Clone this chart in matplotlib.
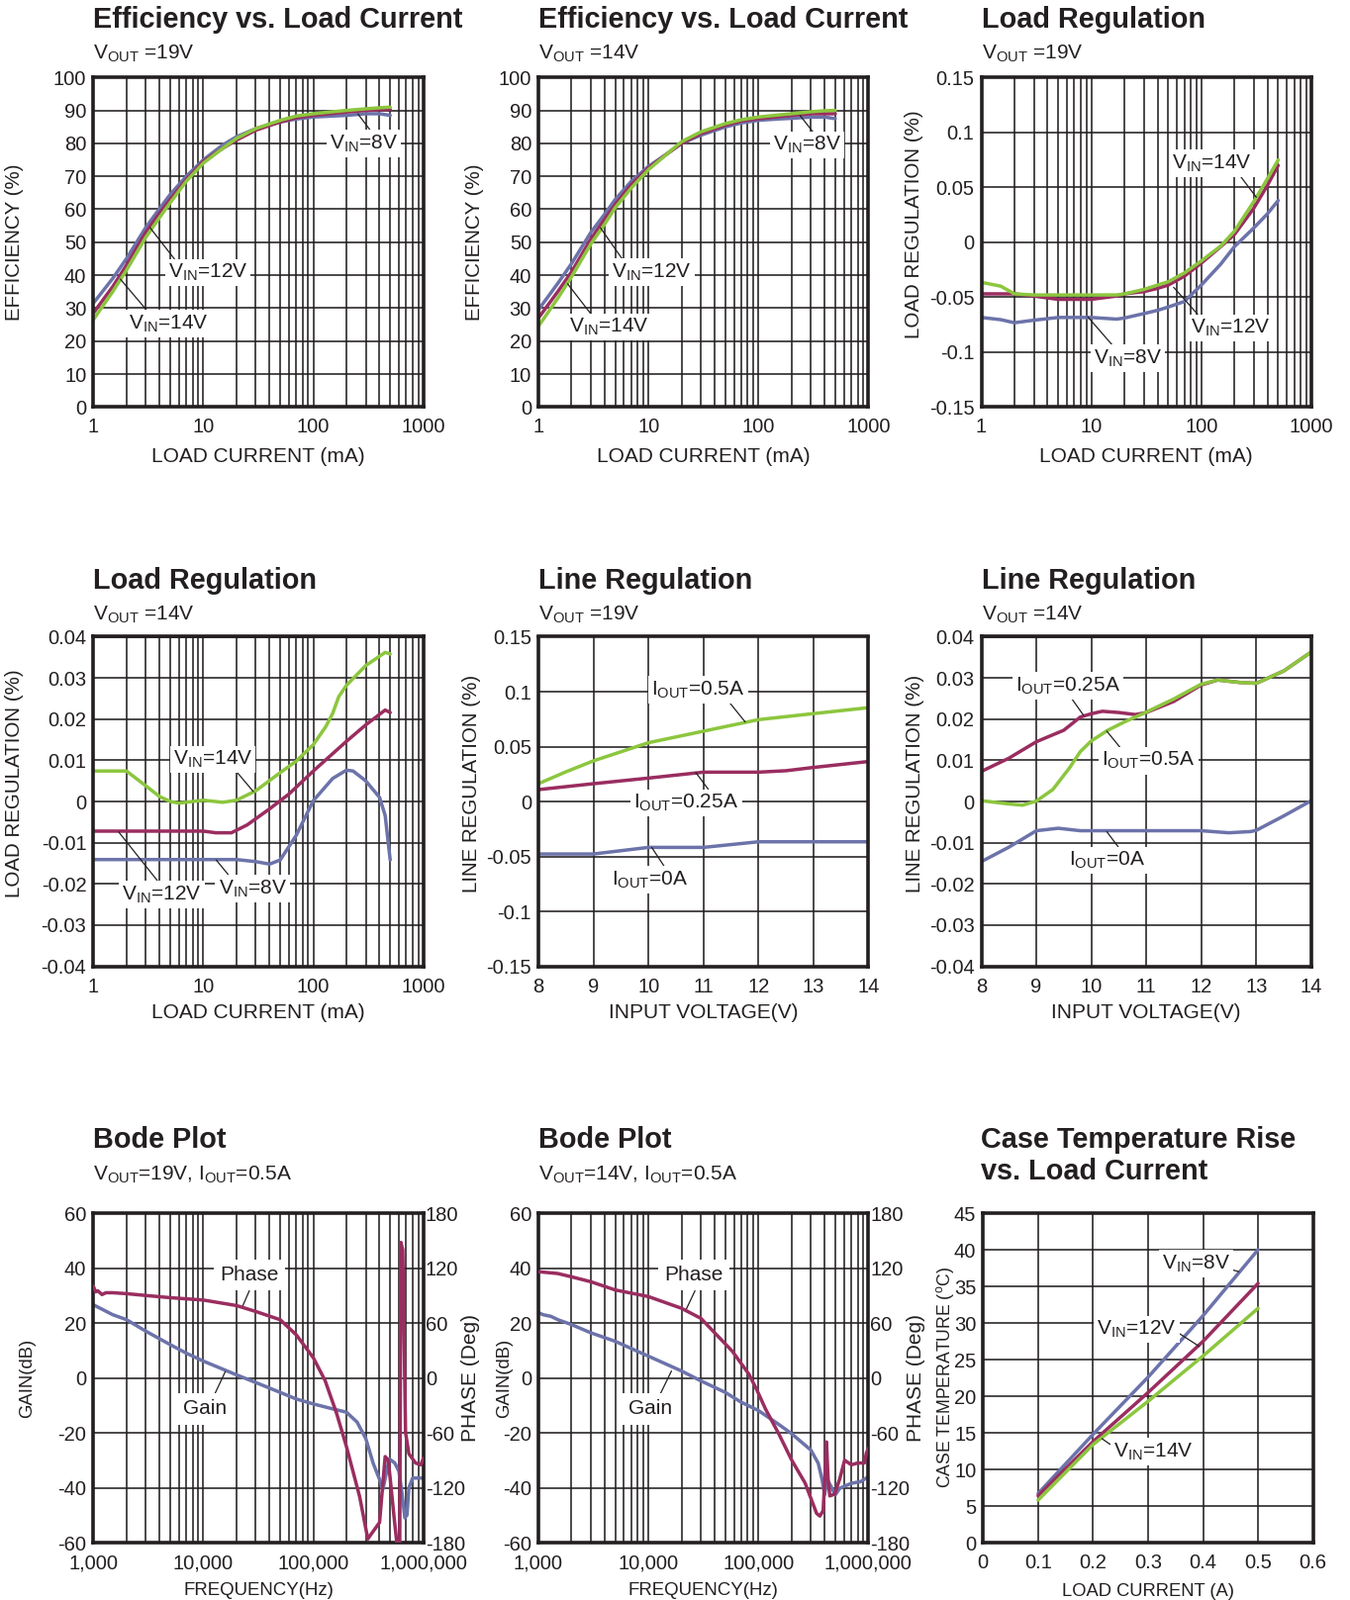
"""
Converter characterisation curves – 3x3 sheet of typical performance plots.
"""

import numpy as np
import matplotlib

matplotlib.use("Agg")
import matplotlib.pyplot as plt
from matplotlib.ticker import FuncFormatter, LogLocator, MultipleLocator, NullFormatter

plt.rcParams["font.family"] = ["Liberation Sans", "DejaVu Sans"]
plt.rcParams["mathtext.fontset"] = "custom"
plt.rcParams["mathtext.rm"] = "Liberation Sans"
plt.rcParams["mathtext.it"] = "Liberation Sans:italic"
plt.rcParams["mathtext.bf"] = "Liberation Sans:bold"
plt.rcParams["axes.unicode_minus"] = False

BLUE = "#6c73aa"
MAROON = "#9a2d60"
GREEN = "#8cc63e"
INK = "#231f20"

# ── data ─────────────────────────────────────────────────────────────────────

# efficiency, load current in mA
eff_i = [1, 1.5, 2, 3, 4, 5, 7, 10, 15, 20, 30, 50, 70, 100, 150, 200, 300, 400, 500]
eff19_8v = [31.5, 39, 45, 54.5, 60.2, 64.5, 70, 75, 79.5, 82, 84.5, 86.5, 87.4, 88, 88.3, 88.5, 89, 89, 88.5]
eff19_12v = [28.5, 36.5, 43, 53, 58.8, 63, 69, 74.5, 78.5, 81, 84, 86.5, 87.8, 88.5, 89.1, 89.5, 90, 90.2, 90.3]
eff19_14v = [26.5, 35, 41.5, 51.5, 57.5, 62, 68.5, 74, 78.5, 81.5, 84.5, 87, 88.3, 89, 89.6, 90, 90.5, 90.8, 91]
eff14_8v = [29.5, 37.5, 43.5, 53, 58.5, 63, 68.5, 73, 77, 80, 82.5, 85, 86.2, 87, 87.4, 87.6, 88, 88, 87.5]
eff14_12v = [27, 35, 41, 51, 57, 61.5, 67.5, 72.5, 77, 80, 83, 85.5, 86.8, 87.5, 88.1, 88.5, 89, 89, 89]
eff14_14v = [24.5, 33, 39.5, 49.5, 55.5, 60.5, 66.5, 72, 77, 80.5, 83.5, 86, 87.2, 88, 88.6, 89, 89.6, 89.9, 90]

# load regulation, VOUT = 19V
lr19_i = [1, 1.5, 2, 3, 5, 10, 17, 20, 30, 40, 50, 70, 100, 150, 200, 300, 400, 500]
lr19_8v = [-0.0685, -0.0705, -0.0733, -0.071, -0.0685, -0.0685, -0.070, -0.069, -0.065, -0.062,
           -0.059, -0.054, -0.039, -0.020, -0.004, 0.013, 0.026, 0.038]
lr19_12v = [-0.047, -0.047, -0.047, -0.049, -0.052, -0.052, -0.049, -0.047, -0.045, -0.042,
            -0.039, -0.031, -0.019, -0.004, 0.007, 0.031, 0.052, 0.070]
lr19_14v = [-0.0365, -0.040, -0.047, -0.048, -0.048, -0.048, -0.048, -0.047, -0.043, -0.039,
            -0.036, -0.028, -0.017, -0.0035, 0.010, 0.037, 0.058, 0.075]

# load regulation, VOUT = 14V
lr14_i_14v = [1, 2, 3, 4, 5, 6, 8, 10, 15, 20, 30, 50, 70, 100, 130, 150, 170, 200, 300, 450, 500]
lr14_14v = [0.0074, 0.0074, 0.0038, 0.0012, 0.0, -0.0004, 0.0, 0.0003, -0.0002, 0.0003, 0.0026,
            0.007, 0.0098, 0.0138, 0.0182, 0.0214, 0.0254, 0.0282, 0.033, 0.0362, 0.0358]
lr14_i_12v = [1, 10, 13, 18, 25, 40, 60, 100, 200, 300, 450, 500]
lr14_12v = [-0.0072, -0.0072, -0.0076, -0.0076, -0.0057, -0.0018, 0.0018, 0.0074, 0.0146, 0.0186, 0.0222, 0.0216]
lr14_i_8v = [1, 20, 30, 40, 50, 70, 100, 150, 200, 230, 300, 400, 450, 500]
lr14_8v = [-0.0141, -0.0141, -0.0146, -0.0152, -0.0142, -0.0082, 0.0002, 0.0056, 0.0076, 0.0074,
           0.005, 0.001, -0.0034, -0.0142]

# line regulation, VOUT = 19V
ln19_v_05 = [8, 8.5, 9, 10, 11, 12, 13, 14]
ln19_05 = [0.0162, 0.027, 0.037, 0.0535, 0.064, 0.0745, 0.080, 0.0854]
ln19_v_025 = [8, 9, 10, 11, 12, 12.5, 13, 14]
ln19_025 = [0.0108, 0.0162, 0.0213, 0.0267, 0.0267, 0.028, 0.031, 0.0364]
ln19_v_0 = [8, 9, 10, 11, 12, 13, 14]
ln19_0 = [-0.0478, -0.0478, -0.0418, -0.0418, -0.0367, -0.0367, -0.0367]

# line regulation, VOUT = 14V
ln14_v_025 = [8, 8.5, 9, 9.5, 9.8, 10, 10.2, 10.5, 10.8, 11, 11.5, 12, 12.3, 12.7, 13, 13.5, 14]
ln14_025 = [0.0073, 0.0105, 0.0145, 0.0173, 0.0205, 0.0213, 0.0219, 0.0216, 0.0211, 0.0216,
            0.0243, 0.0283, 0.0295, 0.0289, 0.0287, 0.0317, 0.0363]
ln14_v_05 = [8, 8.5, 8.75, 9, 9.3, 9.6, 9.8, 10, 10.3, 10.6, 11, 11.5, 12, 12.3, 12.7, 13, 13.5, 14]
ln14_05 = [0.0002, -0.0006, -0.0009, 0.0001, 0.0029, 0.0081, 0.0121, 0.0147, 0.0173, 0.0193,
           0.0217, 0.0249, 0.0285, 0.0295, 0.0289, 0.0287, 0.0317, 0.0363]
ln14_v_0 = [8, 8.5, 9, 9.4, 9.8, 10, 11, 12, 12.5, 12.9, 13, 13.5, 14]
ln14_0 = [-0.0146, -0.0111, -0.0071, -0.0065, -0.0071, -0.0071, -0.0071, -0.0071, -0.0076,
          -0.0073, -0.007, -0.0035, 0.0002]

# bode, VOUT = 19V
b19_f_gain = [1000, 1200, 1500, 2000, 3000, 5000, 7000, 10000, 20000, 30000, 50000, 70000,
              100000, 150000, 200000, 250000, 300000, 350000, 400000, 430000, 490000, 550000,
              600000, 640000, 680000, 710000, 740000, 800000, 1000000]
b19_gain = [26.6, 25, 23, 21.2, 17, 12.1, 9, 6.1, 1.1, -1.7, -5.3, -7.7, -9.5, -11.3, -12.5,
            -16.1, -22.1, -31.1, -37, -40.5, -29.5, -31, -34, -42, -51, -50, -40, -36.5, -36.5]
b19_f_phase = [1000, 1050, 1100, 1200, 1300, 1500, 2000, 3000, 5000, 10000, 20000, 30000, 50000,
               70000, 100000, 128000, 163000, 200000, 264000, 313000, 330000, 400000, 450000,
               480000, 500000, 540000, 580000, 610000, 625000, 650000, 690000, 740000, 850000,
               950000, 1000000]
b19_phase = [100, 94, 95, 91, 93, 93, 92, 90, 87.6, 85, 79, 72.5, 63.5, 47, 22, -3, -39, -75,
             -130, -176, -172, -158, -86, -90, -110, -150, -185, -195, 148, 140, -60, -83, -93,
             -95, -88]

# bode, VOUT = 14V
b14_f_gain = [1000, 1100, 1300, 1500, 2000, 3000, 5000, 10000, 20000, 30000, 50000, 70000,
              100000, 150000, 200000, 300000, 350000, 380000, 400000, 420000, 450000, 500000,
              550000, 700000, 850000, 1000000]
b14_gain = [23.8, 23, 22.4, 21.2, 19.4, 16.4, 13.3, 7.9, 2.5, -1.1, -5.3, -8.9, -11.9, -16.7,
            -20.3, -26.3, -31.1, -37.2, -42.6, -37, -39, -42.6, -40.2, -38.4, -37.8, -36]
b14_f_phase = [1000, 1500, 2000, 3000, 5000, 10000, 20000, 30000, 58000, 82000, 97500, 116000,
               153000, 201000, 266000, 338000, 362000, 388000, 405000, 416000, 430000, 446000,
               494000, 550000, 608000, 700000, 800000, 920000, 960000, 1000000]
b14_phase = [116, 114, 110.4, 105, 96, 88.8, 76, 65, 29, 4, -14, -34, -61, -90, -115, -148, -151,
             -145, -100, -70, -110, -129, -127, -110, -90, -95, -93, -93, -82, -77]

# case temperature rise
ct_i = [0.1, 0.2, 0.3, 0.4, 0.5]
ct_8v = [6.7, 14.8, 22.6, 31, 40]
ct_12v = [6.4, 13.8, 20.5, 27.5, 35.4]
ct_14v = [5.8, 13.4, 19.3, 25.5, 32]

VIN8 = r"V$_{\mathrm{IN}}$=8V"
VIN12 = r"V$_{\mathrm{IN}}$=12V"
VIN14 = r"V$_{\mathrm{IN}}$=14V"

# ── helpers ──────────────────────────────────────────────────────────────────

W, H = 1364, 1617
AX_W, AX_H = 333.4, 333.0


def make_axes(fig, left_px, top_px):
    ax = fig.add_axes([left_px / W, 1 - (top_px + AX_H) / H, AX_W / W, AX_H / H])
    for s in ax.spines.values():
        s.set_linewidth(2.6)
        s.set_color(INK)
    ax.tick_params(which="both", length=0, labelsize=14.5, colors=INK)
    ax.tick_params(axis="y", pad=5)
    ax.tick_params(axis="x", pad=8)
    ax.grid(which="both", color=INK, lw=1.15)
    ax.set_axisbelow(True)
    return ax


def num_fmt(v, _pos):
    return f"{round(v, 6) + 0.0:g}"


def log_x(ax, lo, hi, fmt=num_fmt):
    ax.set_xscale("log")
    ax.set_xlim(lo, hi)
    ax.xaxis.set_major_locator(LogLocator(base=10, numticks=10))
    ax.xaxis.set_minor_locator(LogLocator(base=10, subs=np.arange(2, 10), numticks=40))
    ax.xaxis.set_minor_formatter(NullFormatter())
    ax.xaxis.set_major_formatter(FuncFormatter(fmt))


def lin_y(ax, lo, hi, step):
    ax.set_ylim(lo, hi)
    ax.yaxis.set_major_locator(MultipleLocator(step))
    ax.yaxis.set_major_formatter(FuncFormatter(num_fmt))


def heading(ax, title, sub, ty=1.150, sy=1.055):
    ax.text(0.0, ty, title, transform=ax.transAxes, fontsize=20.8, fontweight="bold",
            va="baseline", ha="left", color=INK)
    if sub:
        ax.text(0.0, sy, sub, transform=ax.transAxes, fontsize=15, va="baseline",
                ha="left", color=INK)


def labels(ax, xlabel, ylabel, xl_y=-0.15, yl_x=-0.2, yl_y=0.5, xsize=15, ysize=14.8):
    ax.set_xlabel(xlabel, fontsize=xsize, va="center", color=INK)
    ax.xaxis.set_label_coords(0.5, xl_y)
    ax.set_ylabel(ylabel, fontsize=ysize, va="center", color=INK)
    ax.yaxis.set_label_coords(yl_x, yl_y)


def tag(ax, text, xy, xytext, relpos=(0.5, 0.5), pad=0.15):
    ax.annotate(text, xy=xy, xytext=xytext, textcoords="data", fontsize=15, color=INK,
                ha="center", va="center", zorder=6,
                bbox=dict(boxstyle=f"square,pad={pad}", fc="white", ec="none"),
                arrowprops=dict(arrowstyle="-", color=INK, lw=0.9, shrinkA=0, shrinkB=0,
                                relpos=relpos))


def curve(ax, x, y, color, z=2):
    ax.plot(x, y, color=color, lw=2.5, zorder=z, solid_capstyle="round")


# ── figure ───────────────────────────────────────────────────────────────────

fig = plt.figure(figsize=(W / 100, H / 100), dpi=100)

COL = [94.3, 544.0, 991.5]
ROW = [78.3, 643.5, 1226.0]

# Efficiency, VOUT=19V
ax = make_axes(fig, COL[0], ROW[0])
log_x(ax, 1, 1000)
lin_y(ax, 0, 100, 10)
curve(ax, eff_i, eff19_8v, BLUE)
curve(ax, eff_i, eff19_12v, MAROON)
curve(ax, eff_i, eff19_14v, GREEN)
heading(ax, "Efficiency vs. Load Current", r"V$_{\mathrm{OUT}}$ =19V")
labels(ax, "LOAD CURRENT (mA)", "EFFICIENCY (%)", yl_x=-0.238)
tag(ax, VIN8, (255, 88.9), (285, 80), relpos=(0.63, 1))
tag(ax, VIN12, (3.28, 54.4), (11.0, 40.8), relpos=(0.11, 1))
tag(ax, VIN14, (1.76, 38.8), (4.8, 25.3), relpos=(0.26, 1))

# Efficiency, VOUT=14V
ax = make_axes(fig, COL[1], ROW[0])
log_x(ax, 1, 1000)
lin_y(ax, 0, 100, 10)
curve(ax, eff_i, eff14_8v, BLUE)
curve(ax, eff_i, eff14_12v, MAROON)
curve(ax, eff_i, eff14_14v, GREEN)
heading(ax, "Efficiency vs. Load Current", r"V$_{\mathrm{OUT}}$ =14V")
labels(ax, "LOAD CURRENT (mA)", "EFFICIENCY (%)", yl_x=-0.192)
tag(ax, VIN8, (239, 88.5), (275, 79.5), relpos=(0.62, 1))
tag(ax, VIN12, (3.66, 54.4), (10.7, 40.9), relpos=(0.155, 1))
tag(ax, VIN14, (1.84, 37.4), (4.36, 24.3), relpos=(0.3, 1))

# Load regulation, VOUT=19V
ax = make_axes(fig, COL[2], ROW[0])
log_x(ax, 1, 1000)
lin_y(ax, -0.15, 0.15, 0.05)
curve(ax, lr19_i, lr19_8v, BLUE)
curve(ax, lr19_i, lr19_12v, MAROON)
curve(ax, lr19_i, lr19_14v, GREEN)
heading(ax, "Load Regulation", r"V$_{\mathrm{OUT}}$ =19V")
labels(ax, "LOAD CURRENT (mA)", "LOAD REGULATION (%)", yl_x=-0.203, yl_y=0.554)
tag(ax, VIN14, (316, 0.041), (124, 0.0718), relpos=(0.84, 0))
tag(ax, VIN12, (56, -0.041), (185, -0.078), relpos=(0.12, 1))
tag(ax, VIN8, (9.3, -0.068), (21.3, -0.1055), relpos=(0.31, 1))

# Load regulation, VOUT=14V
ax = make_axes(fig, COL[0], ROW[1])
log_x(ax, 1, 1000)
lin_y(ax, -0.04, 0.04, 0.01)
curve(ax, lr14_i_8v, lr14_8v, BLUE)
curve(ax, lr14_i_12v, lr14_12v, MAROON)
curve(ax, lr14_i_14v, lr14_14v, GREEN)
heading(ax, "Load Regulation", r"V$_{\mathrm{OUT}}$ =14V", ty=1.146, sy=1.049)
labels(ax, "LOAD CURRENT (mA)", "LOAD REGULATION (%)", xl_y=-0.142, yl_x=-0.238, yl_y=0.555)
tag(ax, VIN14, (28.5, 0.0024), (12.2, 0.0102), relpos=(0.78, 0))
tag(ax, VIN12, (1.70, -0.0074), (4.18, -0.0226), relpos=(0.48, 1))
tag(ax, VIN8, (13.1, -0.0142), (27.9, -0.0212), relpos=(0.19, 1))

# Line regulation, VOUT=19V
ax = make_axes(fig, COL[1], ROW[1])
ax.set_xlim(8, 14)
ax.xaxis.set_major_locator(MultipleLocator(1))
lin_y(ax, -0.15, 0.15, 0.05)
curve(ax, ln19_v_0, ln19_0, BLUE)
curve(ax, ln19_v_025, ln19_025, MAROON)
curve(ax, ln19_v_05, ln19_05, GREEN)
heading(ax, "Line Regulation", r"V$_{\mathrm{OUT}}$ =19V", ty=1.146, sy=1.049)
labels(ax, "INPUT VOLTAGE(V)", "LINE REGULATION (%)", xl_y=-0.142, yl_x=-0.201, yl_y=0.555)
tag(ax, r"I$_{\mathrm{OUT}}$=0.5A", (11.76, 0.0724), (10.9, 0.1016), relpos=(0.82, 0))
tag(ax, r"I$_{\mathrm{OUT}}$=0.25A", (10.86, 0.0265), (10.69, -0.0012), relpos=(0.73, 1))
tag(ax, r"I$_{\mathrm{OUT}}$=0A", (10.06, -0.0418), (10.03, -0.0712), relpos=(0.71, 1))

# Line regulation, VOUT=14V
ax = make_axes(fig, COL[2], ROW[1])
ax.set_xlim(8, 14)
ax.xaxis.set_major_locator(MultipleLocator(1))
lin_y(ax, -0.04, 0.04, 0.01)
curve(ax, ln14_v_0, ln14_0, BLUE)
curve(ax, ln14_v_025, ln14_025, MAROON)
curve(ax, ln14_v_05, ln14_05, GREEN)
heading(ax, "Line Regulation", r"V$_{\mathrm{OUT}}$ =14V", ty=1.146, sy=1.049)
labels(ax, "INPUT VOLTAGE(V)", "LINE REGULATION (%)", xl_y=-0.142, yl_x=-0.2, yl_y=0.555)
tag(ax, r"I$_{\mathrm{OUT}}$=0.25A", (9.86, 0.0209), (9.575, 0.0281), relpos=(0.52, 0))
tag(ax, r"I$_{\mathrm{OUT}}$=0.5A", (10.28, 0.0171), (11.04, 0.0099), relpos=(0.22, 1))
tag(ax, r"I$_{\mathrm{OUT}}$=0A", (10.28, -0.0073), (10.28, -0.0143), relpos=(0.68, 1))


# Bode plots
def bode(left_px, f_gain, gain, f_phase, phase, sub, gain_x, phase_x):
    ax = make_axes(fig, left_px, ROW[2])
    log_x(ax, 1e3, 1e6, lambda v, p: f"{int(round(v)):,}")
    lin_y(ax, -60, 60, 20)
    ax.set_yticks(np.arange(-60, 61, 20))
    curve(ax, f_gain, gain, BLUE)
    ax2 = ax.twinx()
    ax2.set_ylim(-180, 180)
    ax2.set_yticks(np.arange(-180, 181, 60))
    ax2.yaxis.set_major_formatter(FuncFormatter(num_fmt))
    ax2.tick_params(length=0, labelsize=14.5, pad=1.5, colors=INK)
    for s in ax2.spines.values():
        s.set_visible(False)
    curve(ax2, f_phase, phase, MAROON)
    heading(ax, "Bode Plot", sub, ty=1.198, sy=1.10)
    labels(ax, "FREQUENCY(Hz)", "GAIN(dB)", xl_y=-0.145, yl_x=gain_x, xsize=13.4, ysize=13.3)
    ax2.set_ylabel("PHASE (Deg)", fontsize=15, va="center", color=INK)
    ax2.yaxis.set_label_coords(phase_x, 0.5)
    return ax


ax = bode(COL[0], b19_f_gain, b19_gain, b19_f_phase, b19_phase,
          r"V$_{\mathrm{OUT}}$=19V, I$_{\mathrm{OUT}}$=0.5A", -0.199, 1.142)
tag(ax, "Phase", (22700, 26), (26060, 37.4), relpos=(0.55, 0), pad=0.3)
tag(ax, "Gain", (15850, 2.3), (10400, -11.3), relpos=(0.66, 1), pad=0.3)

ax = bode(COL[1], b14_f_gain, b14_gain, b14_f_phase, b14_phase,
          r"V$_{\mathrm{OUT}}$=14V, I$_{\mathrm{OUT}}$=0.5A", -0.102, 1.144)
tag(ax, "Phase", (22080, 25), (25880, 37.4), relpos=(0.57, 0), pad=0.3)
tag(ax, "Gain", (16200, 2.5), (10480, -11.3), relpos=(0.66, 1), pad=0.3)

# Case temperature rise
ax = make_axes(fig, 993.3, ROW[2])
ax.set_xlim(0, 0.6)
ax.xaxis.set_major_locator(MultipleLocator(0.1))
ax.xaxis.set_major_formatter(FuncFormatter(num_fmt))
lin_y(ax, 0, 45, 5)
curve(ax, ct_i, ct_8v, BLUE)
curve(ax, ct_i, ct_12v, MAROON)
curve(ax, ct_i, ct_14v, GREEN)
ax.text(-0.008, 1.198, "Case Temperature Rise", transform=ax.transAxes, fontsize=20.8,
        fontweight="bold", va="baseline", ha="left", color=INK)
ax.text(-0.008, 1.101, "vs. Load Current", transform=ax.transAxes, fontsize=20.8,
        fontweight="bold", va="baseline", ha="left", color=INK)
labels(ax, "LOAD CURRENT (A)", r"CASE TEMPERATURE ($^{\mathrm{o}}$C)", xl_y=-0.15,
       yl_x=-0.115, xsize=13.2, ysize=12.7)
tag(ax, VIN8, (0.465, 37), (0.387, 38.1), relpos=(0.93, 0.3))
tag(ax, VIN12, (0.393, 26.8), (0.279, 29.1), relpos=(1, 0.4))
tag(ax, VIN14, (0.216, 14.2), (0.309, 12.4), relpos=(0.02, 0.7))

fig.savefig("out.png", dpi=100)
plt.close(fig)
